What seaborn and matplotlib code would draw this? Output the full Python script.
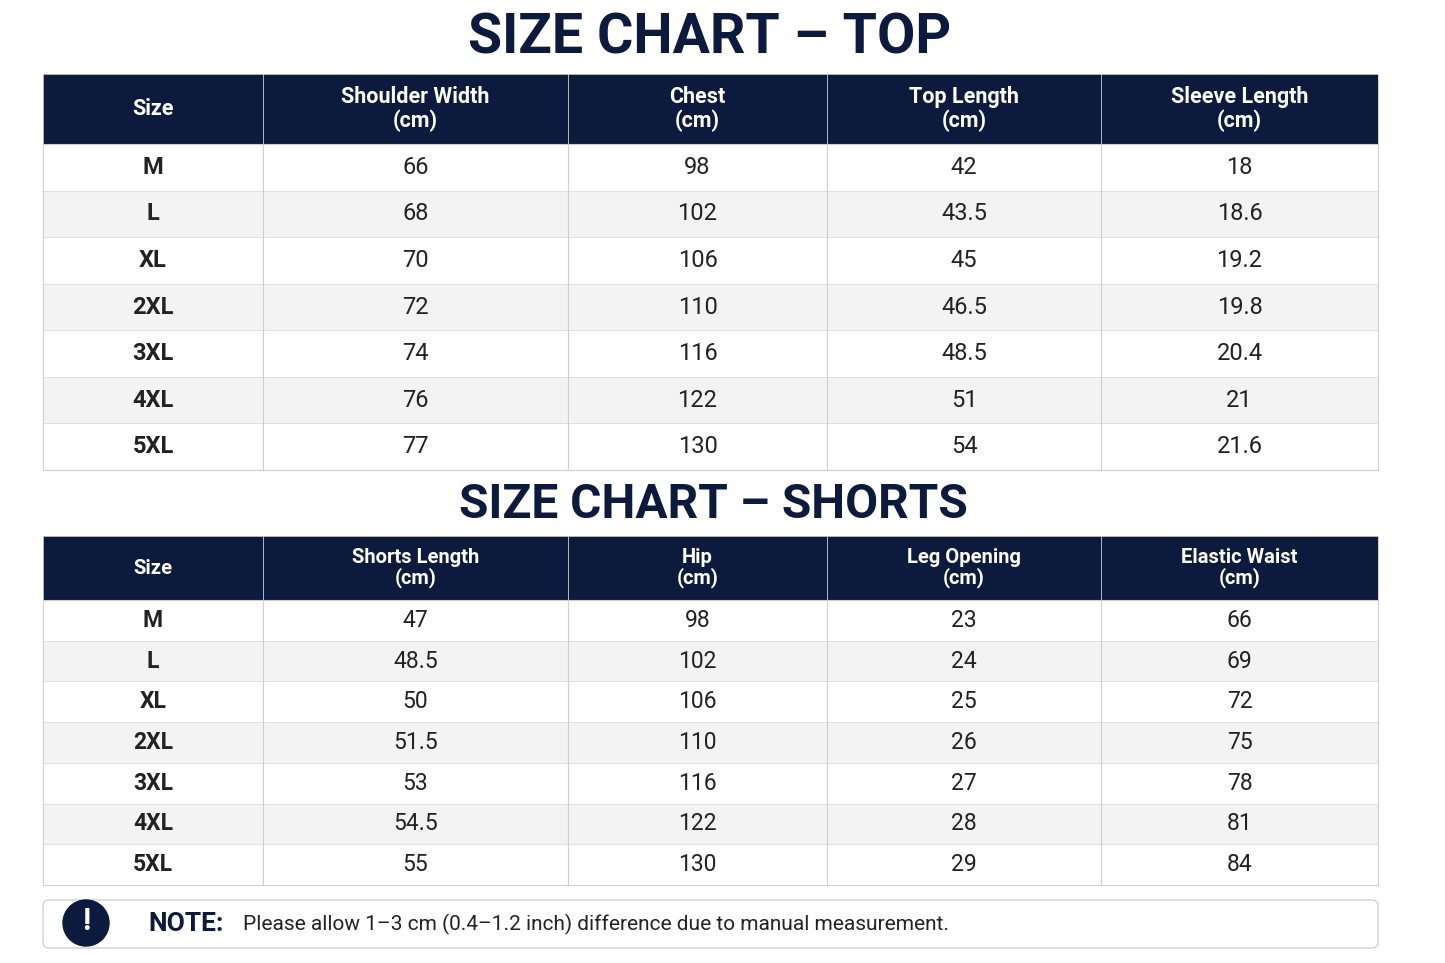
import numpy as np
import matplotlib
matplotlib.use("Agg")
import matplotlib.pyplot as plt
from matplotlib.colors import ListedColormap
from matplotlib.patches import FancyBboxPatch, Circle
import seaborn as sns

sns.set_theme(style="white")
plt.rcParams['font.family'] = ['Roboto', 'DejaVu Sans']

sizes = ["M", "L", "XL", "2XL", "3XL", "4XL", "5XL"]
top_headers = ["Size", "Shoulder Width\n(cm)", "Chest\n(cm)", "Top Length\n(cm)", "Sleeve Length\n(cm)"]
shoulder = ["66", "68", "70", "72", "74", "76", "77"]
chest = ["98", "102", "106", "110", "116", "122", "130"]
top_length = ["42", "43.5", "45", "46.5", "48.5", "51", "54"]
sleeve = ["18", "18.6", "19.2", "19.8", "20.4", "21", "21.6"]
short_headers = ["Size", "Shorts Length\n(cm)", "Hip\n(cm)", "Leg Opening\n(cm)", "Elastic Waist\n(cm)"]
shorts_len = ["47", "48.5", "50", "51.5", "53", "54.5", "55"]
hip = ["98", "102", "106", "110", "116", "122", "130"]
leg = ["23", "24", "25", "26", "27", "28", "29"]
waist = ["66", "69", "72", "75", "78", "81", "84"]

W, H = 1445, 963
NAVY = "#0c1a3d"
col_edges = [43, 263, 568, 827, 1101, 1378]
stripe = np.array([[i % 2] for i in range(7)])
cmap = ListedColormap(["#ffffff", "#f3f3f3"])

fig = plt.figure(figsize=(W/100, H/100), dpi=100)

def ax_px(x0, y0, x1, y1):
    return fig.add_axes([x0/W, 1-y1/H, (x1-x0)/W, (y1-y0)/H])

def table(headers, cols, hy0, hy1, by1, hsize, bsize):
    for j in range(5):
        x0, x1 = col_edges[j], col_edges[j+1]
        ah = ax_px(x0, hy0, x1, hy1)
        ah.set_facecolor(NAVY)
        ah.set_xticks([]); ah.set_yticks([])
        for s in ah.spines.values():
            s.set_color("#d0d0d0"); s.set_linewidth(0.6)
        ah.text(0.5, 0.5, headers[j], color="white", ha="center", va="center",
                fontsize=hsize, fontweight="bold", linespacing=1.05, transform=ah.transAxes)
        ab = ax_px(x0, hy1, x1, by1)
        labels = np.array([[v] for v in cols[j]])
        sns.heatmap(stripe, ax=ab, cmap=cmap, annot=labels, fmt="", cbar=False,
                    linewidths=0.6, linecolor="#e0e0e0", vmin=0, vmax=1,
                    annot_kws={"fontsize": bsize, "color": "#222222",
                               "fontweight": "bold" if j == 0 else "normal"})
        ab.set_xticks([]); ab.set_yticks([])
        for s in ab.spines.values():
            s.set_visible(True); s.set_color("#cfcfcf"); s.set_linewidth(0.8)

fig.text(710/W, 1-38/H, "SIZE CHART – TOP", ha="center", va="center",
         fontsize=40, fontweight="bold", color=NAVY)
table(top_headers, [sizes, shoulder, chest, top_length, sleeve], 74, 144, 470, 15.5, 17)

fig.text(713/W, 1-505/H, "SIZE CHART – SHORTS", ha="center", va="center",
         fontsize=34.5, fontweight="bold", color=NAVY)
table(short_headers, [sizes, shorts_len, hip, leg, waist], 536, 600, 885, 14.5, 16.5)

an = ax_px(0, 0, W, H)
an.set_xlim(0, W); an.set_ylim(H, 0); an.axis("off"); an.patch.set_alpha(0)
an.add_patch(FancyBboxPatch((43, 900), 1335, 48, boxstyle="round,pad=0,rounding_size=6",
                            fc="white", ec="#d0d0d0", lw=1))
an.add_patch(Circle((86, 923), 23, color=NAVY))
an.text(86, 921, "!", color="white", ha="center", va="center", fontsize=22, fontweight="bold")
an.text(148, 924, "NOTE:", color=NAVY, ha="left", va="center", fontsize=19, fontweight="bold")
an.text(243, 924, "Please allow 1–3 cm (0.4–1.2 inch) difference due to manual measurement.",
        color="#222222", ha="left", va="center", fontsize=15)

fig.savefig("out.png", dpi=100)
